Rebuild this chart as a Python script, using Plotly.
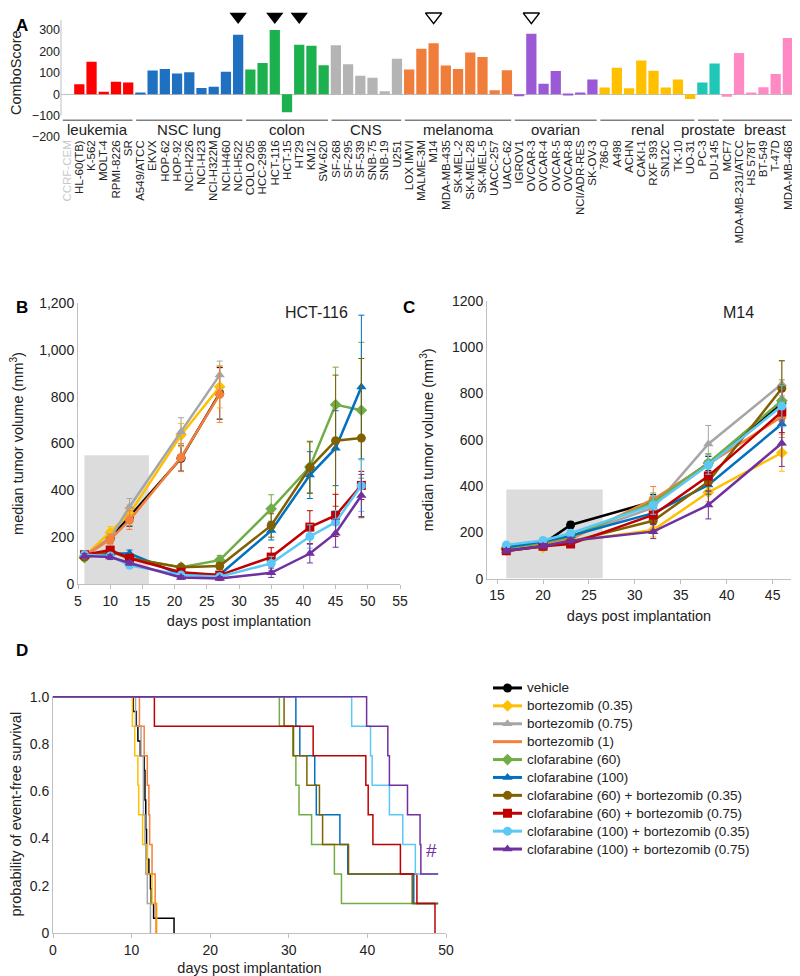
import plotly.graph_objects as go

FONT = "Liberation Sans, Arial, sans-serif"
PAGE_W, PAGE_H = 800, 976
OFF = 8  # default page body margin; the figure is placed at (8, 8)
W, H = PAGE_W - OFF, PAGE_H - OFF

# ---------------- Panel A data ----------------
groups = ["leukemia", "NSC lung", "colon", "CNS", "melanoma", "ovarian", "renal", "prostate", "breast"]
group_colors = ["#FF0000", "#1F70C1", "#1DB04E", "#B4B4B4", "#F07D3A", "#9B59D6", "#FFC000", "#1FC8B6", "#FF89C2"]

leukemia_lines = ["CCRF-CEM", "HL-60(TB)", "K-562", "MOLT-4", "RPMI-8226", "SR"]
leukemia_vals = [None, 46, 151, 11, 58, 54]
lung_lines = ["A549/ATCC", "EKVX", "HOP-62", "HOP-92", "NCI-H226", "NCI-H23", "NCI-H322M", "NCI-H460", "NCI-H522"]
lung_vals = [8, 111, 118, 97, 102, 29, 35, 105, 277]
colon_lines = ["COLO 205", "HCC-2998", "HCT-116", "HCT-15", "HT29", "KM12", "SW-620"]
colon_vals = [115, 145, 300, -85, 231, 226, 135]
cns_lines = ["SF-268", "SF-295", "SF-539", "SNB-75", "SNB-19", "U251"]
cns_vals = [228, 140, 86, 77, 14, 165]
melanoma_lines = ["LOX IMVI", "MALME-3M", "M14", "MDA-MB-435", "SK-MEL-2", "SK-MEL-28", "SK-MEL-5", "UACC-257", "UACC-62"]
melanoma_vals = [115, 212, 238, 134, 118, 194, 174, 18, 112]
ovarian_lines = ["IGROV1", "OVCAR-3", "OVCAR-4", "OVCAR-5", "OVCAR-8", "NCI/ADR-RES", "SK-OV-3"]
ovarian_vals = [-10, 282, 49, 108, -5, 8, 69]
renal_lines = ["786-0", "A498", "ACHN", "CAKI-1", "RXF 393", "SN12C", "TK-10", "UO-31"]
renal_vals = [31, 123, 28, 157, 109, 31, 69, -23]
prostate_lines = ["PC-3", "DU-145"]
prostate_vals = [54, 143]
breast_lines = ["MCF7", "MDA-MB-231/ATCC", "HS 578T", "BT-549", "T-47D", "MDA-MB-468"]
breast_vals = [-12, 192, 8, 32, 94, 262]

group_lines = [leukemia_lines, lung_lines, colon_lines, cns_lines, melanoma_lines,
               ovarian_lines, renal_lines, prostate_lines, breast_lines]
group_vals = [leukemia_vals, lung_vals, colon_vals, cns_vals, melanoma_vals,
              ovarian_vals, renal_vals, prostate_vals, breast_vals]
untested_lines = ["CCRF-CEM"]
marked_filled = ["NCI-H522", "HCT-116", "HT29"]
marked_open = ["M14", "OVCAR-3"]

# ---------------- Panel B data (HCT-116) ----------------
days_B = [6, 10, 13, 21, 27, 35, 41, 45, 49]
vehicle_B = [120, 195, 287, 537, 814]
bort035_B = [118, 220, 300, 636, 842]
bort075_B = [122, 195, 330, 650, 892]
bort1_B = [120, 190, 273, 540, 810]
clof60_B = [112, 140, 110, 72, 102, 321, 500, 766, 742]
clof100_B = [118, 130, 130, 40, 40, 228, 465, 580, 841]
c60b035_B = [115, 140, 110, 71, 77, 250, 497, 612, 623]
c60b075_B = [125, 145, 110, 50, 38, 115, 243, 293, 421]
c100b035_B = [125, 120, 80, 38, 31, 88, 203, 264, 420]
c100b075_B = [120, 115, 90, 28, 24, 48, 130, 217, 378]

vehicle_B_err = [10, 20, 40, 55, 110]
bort035_B_err = [10, 25, 40, 50, 90]
bort075_B_err = [10, 20, 35, 60, 60]
bort1_B_err = [10, 20, 40, 60, 120]
clof60_B_err = [10, 15, 15, 10, 20, 60, 110, 160, 290]
clof100_B_err = [10, 15, 15, 10, 10, 40, 100, 160, 307]
c60b035_B_err = [10, 15, 15, 10, 15, 50, 110, 280, 340]
c60b075_B_err = [10, 15, 15, 10, 10, 40, 70, 90, 60]
c100b035_B_err = [10, 10, 10, 8, 8, 30, 50, 50, 110]
c100b075_B_err = [10, 10, 10, 8, 8, 20, 40, 60, 90]

# ---------------- Panel C data (M14) ----------------
days_C = [16, 20, 23, 32, 38, 46]
vehicle_C = [130, 150, 232, 333, 498, 758]
bort035_C = [125, 135, 160, 210, 373, 544]
bort075_C = [135, 160, 180, 307, 582, 841]
bort1_C = [128, 150, 170, 343, 495, 700]
clof60_C = [130, 155, 180, 330, 500, 769]
clof100_C = [135, 160, 185, 283, 405, 668]
c60b035_C = [120, 140, 160, 250, 419, 822]
c60b075_C = [120, 140, 150, 275, 443, 721]
c100b035_C = [145, 165, 196, 318, 491, 746]
c100b075_C = [120, 140, 164, 203, 318, 585]

vehicle_C_err = [10, 12, 15, 30, 30, 80]
bort035_C_err = [10, 12, 15, 30, 40, 80]
bort075_C_err = [10, 12, 15, 30, 80, 100]
bort1_C_err = [10, 12, 15, 55, 40, 90]
clof60_C_err = [10, 12, 15, 40, 40, 90]
clof100_C_err = [10, 12, 15, 40, 40, 90]
c60b035_C_err = [10, 12, 15, 40, 40, 120]
c60b075_C_err = [10, 12, 15, 40, 40, 90]
c100b035_C_err = [10, 12, 15, 40, 40, 90]
c100b075_C_err = [10, 12, 15, 30, 60, 100]

# ---------------- Panel D data (event-free survival) ----------------
# (day of event, survival after event); curves not reaching 0 continue to end_day_D
vehicle_D = [(10.2, 0.9375), (10.6, 0.875), (10.8, 0.8125), (11.1, 0.75), (11.6, 0.6875), (11.7, 0.625),
             (11.7, 0.5625), (11.8, 0.5), (11.8, 0.4375), (11.9, 0.375), (12.0, 0.3125), (12.2, 0.25),
             (12.4, 0.1875), (12.5, 0.125), (12.8, 0.0625), (15.4, 0.0)]
bort035_D = [(10.1, 0.875), (10.4, 0.75), (10.8, 0.625), (10.9, 0.5), (11.4, 0.375), (12.0, 0.25), (12.6, 0.125), (13.2, 0.0)]
bort075_D = [(10.5, 0.875), (11.2, 0.75), (11.5, 0.5), (11.7, 0.375), (11.8, 0.25), (12.0, 0.125), (12.4, 0.0)]
bort1_D = [(11.0, 0.875), (11.6, 0.75), (12.0, 0.625), (12.2, 0.5), (12.3, 0.375), (12.6, 0.25), (13.0, 0.125), (13.1, 0.0)]
clof60_D = [(28.8, 0.875), (30.5, 0.75), (30.9, 0.625), (31.3, 0.5), (32.9, 0.375), (35.8, 0.25), (36.7, 0.125)]
clof100_D = [(30.9, 0.875), (31.4, 0.75), (33.3, 0.625), (33.5, 0.5), (36.5, 0.375), (37.5, 0.25), (45.9, 0.125)]
c60b035_D = [(29.4, 0.875), (30.6, 0.75), (32.3, 0.625), (33.9, 0.5), (34.3, 0.375), (37.6, 0.25), (45.7, 0.125)]
c60b075_D = [(12.9, 0.875), (33.1, 0.75), (39.8, 0.625), (40.1, 0.5), (40.7, 0.375), (44.2, 0.25), (46.3, 0.125), (48.6, 0.0)]
c100b035_D = [(38.0, 0.875), (40.4, 0.75), (40.6, 0.625), (42.8, 0.5), (44.5, 0.375), (46.1, 0.25)]
c100b075_D = [(39.9, 0.875), (42.6, 0.75), (42.8, 0.625), (45.1, 0.5), (46.7, 0.375), (46.8, 0.25)]
end_day_D = 49

series_names = ["vehicle", "bortezomib (0.35)", "bortezomib (0.75)", "bortezomib (1)", "clofarabine (60)",
                "clofarabine (100)", "clofarabine (60) + bortezomib (0.35)", "clofarabine (60) + bortezomib (0.75)",
                "clofarabine (100) + bortezomib (0.35)", "clofarabine (100) + bortezomib (0.75)"]
series_colors = ["#000000", "#FFC000", "#A6A6A6", "#F4803B", "#70AD47", "#0070C0", "#806000", "#C00000", "#5BC8F5", "#7030A0"]
series_symbols = ["circle", "diamond", "triangle-up", "circle", "diamond", "triangle-up", "circle", "square", "circle", "triangle-up"]
legend_symbols = ["circle", "diamond", "triangle-up", None, "diamond", "triangle-up", "circle", "square", "circle", "triangle-up"]

B_vals = [vehicle_B, bort035_B, bort075_B, bort1_B, clof60_B, clof100_B, c60b035_B, c60b075_B, c100b035_B, c100b075_B]
B_errs = [vehicle_B_err, bort035_B_err, bort075_B_err, bort1_B_err, clof60_B_err, clof100_B_err,
          c60b035_B_err, c60b075_B_err, c100b035_B_err, c100b075_B_err]
C_vals = [vehicle_C, bort035_C, bort075_C, bort1_C, clof60_C, clof100_C, c60b035_C, c60b075_C, c100b035_C, c100b075_C]
C_errs = [vehicle_C_err, bort035_C_err, bort075_C_err, bort1_C_err, clof60_C_err, clof100_C_err,
          c60b035_C_err, c60b075_C_err, c100b035_C_err, c100b075_C_err]
D_curves = [vehicle_D, bort035_D, bort075_D, bort1_D, clof60_D, clof100_D, c60b035_D, c60b075_D, c100b035_D, c100b075_D]


def py(p):  # page pixel y (from top) -> paper
    return 1 - (p - OFF) / H


def px(p):  # page pixel x -> paper
    return (p - OFF) / W


fig = go.Figure()

# ---------------- Panel A ----------------
all_lines, all_vals, all_colors = [], [], []
for lines, vals, col in zip(group_lines, group_vals, group_colors):
    all_lines += lines
    all_vals += vals
    all_colors += [col] * len(lines)

fig.add_trace(go.Bar(x=all_lines, y=all_vals, marker=dict(color=all_colors, line=dict(width=0)),
                     xaxis="x", yaxis="y", showlegend=False))
fig.add_trace(go.Scatter(x=marked_filled, y=[362] * len(marked_filled), mode="markers",
                         marker=dict(symbol="triangle-down", size=15, color="black"),
                         xaxis="x", yaxis="y", showlegend=False, cliponaxis=False))
fig.add_trace(go.Scatter(x=marked_open, y=[362] * len(marked_open), mode="markers",
                         marker=dict(symbol="triangle-down-open", size=14, color="black", line=dict(width=1.5)),
                         xaxis="x", yaxis="y", showlegend=False, cliponaxis=False))

ticktext_A = [f"<span style='color:#C8C8C8'>{n}</span>" if n in untested_lines else n for n in all_lines]

shapes = []
annotations = []
# left axis line of panel A (stops above the top tick, as in the original)
shapes.append(dict(type="line", xref="x domain", yref="y", x0=0, x1=0, y0=-100, y1=345,
                   line=dict(color="#BFBFBF", width=1)))
start = 0
for g, lines in zip(groups, group_lines):
    n = len(lines)
    shapes.append(dict(type="line", xref="x", yref="y", x0=start - 0.35, x1=start + n - 0.65,
                       y0=-122, y1=-122, line=dict(color="#7F7F7F", width=1.5)))
    annotations.append(dict(xref="x", yref="y", x=start + (n - 1) / 2, y=-163, text=g, showarrow=False,
                            xshift=8 if g == "breast" else 0,
                            font=dict(size=15, color="#222", family=FONT)))
    start += n

# ---------------- Panel B & C ----------------
for vals, errs, name, col, sym in zip(B_vals, B_errs, series_names, series_colors, series_symbols):
    fig.add_trace(go.Scatter(x=days_B[:len(vals)], y=vals, mode="lines+markers", name=name,
                             line=dict(color=col, width=2.5), marker=dict(symbol=sym, size=9, color=col),
                             error_y=dict(type="data", array=errs, color=col, thickness=1, width=3),
                             xaxis="x2", yaxis="y2", showlegend=False))
for vals, errs, name, col, sym in zip(C_vals, C_errs, series_names, series_colors, series_symbols):
    fig.add_trace(go.Scatter(x=days_C, y=vals, mode="lines+markers", name=name,
                             line=dict(color=col, width=2.5), marker=dict(symbol=sym, size=9, color=col),
                             error_y=dict(type="data", array=errs, color=col, thickness=1, width=3),
                             xaxis="x3", yaxis="y3", showlegend=False))

# ---------------- Panel D ----------------
for curve, name, col in zip(D_curves, series_names, series_colors):
    xs = [0] + [t for t, s in curve]
    ys = [1.0] + [s for t, s in curve]
    if ys[-1] > 0:
        xs.append(end_day_D)
        ys.append(ys[-1])
    fig.add_trace(go.Scatter(x=xs, y=ys, mode="lines", line=dict(color=col, width=1.5, shape="hv"),
                             name=name, xaxis="x4", yaxis="y4", showlegend=False))

# ---------------- Legend (drawn on a hidden helper axis, one row per series) ----------------
for i, (name, col, sym) in enumerate(zip(series_names, series_colors, legend_symbols)):
    fig.add_trace(go.Scatter(x=[0, 1], y=[i, i], mode="lines", line=dict(color=col, width=3),
                             xaxis="x5", yaxis="y5", showlegend=False, hoverinfo="skip"))
    if sym:
        fig.add_trace(go.Scatter(x=[0.5], y=[i], mode="markers", marker=dict(symbol=sym, size=9, color=col),
                                 xaxis="x5", yaxis="y5", showlegend=False, hoverinfo="skip", cliponaxis=False))
    annotations.append(dict(xref="x5", yref="y5", x=1, y=i, xanchor="left", xshift=3, text=name,
                            showarrow=False, font=dict(size=13.5, color="#222")))

# shaded treatment windows
shapes.append(dict(type="rect", xref="x2", yref="y2", x0=6, x1=16, y0=0, y1=550,
                   fillcolor="#DCDCDC", line=dict(width=0), layer="below"))
shapes.append(dict(type="rect", xref="x3", yref="y3", x0=16, x1=26.5, y0=0, y1=385,
                   fillcolor="#DCDCDC", line=dict(width=0), layer="below"))

annotations += [
    dict(xref="x2", yref="y2", x=42.1, y=1160, text="HCT-116", showarrow=False, font=dict(size=16, color="#222")),
    dict(xref="x3", yref="y3", x=41.3, y=1152, text="M14", showarrow=False, font=dict(size=16, color="#222")),
    dict(xref="x4", yref="y4", x=48.2, y=0.35, text="#", showarrow=False, font=dict(size=19, color="#7030A0")),
]
for letter, xpix, ypix in [("A", 14, 14), ("B", 14, 296), ("C", 409, 296), ("D", 14, 662)]:
    annotations.append(dict(xref="paper", yref="paper", x=px(xpix), y=py(ypix), text=f"<b>{letter}</b>",
                            showarrow=False, font=dict(size=17, color="#000")))

axis_common = dict(showgrid=False, zeroline=False, showline=True, linecolor="#BFBFBF", linewidth=1,
                   tickfont=dict(size=14, color="#222"), ticks="outside", tickcolor="#BFBFBF", ticklen=4,
                   automargin=False)

# panel A: 0 at page y 95, 100 units = 21.63 px
A_top_val = 400
A_top_pix = 95 - A_top_val * 0.2163

fig.update_layout(
    width=W, height=H, paper_bgcolor="white", plot_bgcolor="white",
    margin=dict(l=0, r=0, t=0, b=0, autoexpand=False),
    font=dict(family=FONT, color="#222"),
    bargap=0.16,
    shapes=shapes, annotations=annotations,
    showlegend=False,
    xaxis=dict(domain=[px(61), px(794)], anchor="y", type="category", range=[-0.5, 59.5],
               tickmode="array", tickvals=all_lines, ticktext=ticktext_A, tickangle=-90,
               tickfont=dict(size=11.5, color="#222"), showline=False, showgrid=False, ticks="",
               automargin=False),
    yaxis=dict(domain=[py(137), py(A_top_pix)], anchor="x", range=[-200, A_top_val],
               tickvals=[-200, -100, 0, 100, 200, 300],
               tickfont=dict(size=12.5, color="#222"), showgrid=False, zeroline=True, zerolinecolor="#BFBFBF",
               zerolinewidth=1, showline=False, automargin=False,
               title=dict(text="ComboScore", font=dict(size=14.5), standoff=12)),
    xaxis2=dict(axis_common, domain=[px(78), px(400)], anchor="y2", range=[5, 55], dtick=5, tick0=5,
                title=dict(text="days post implantation", font=dict(size=14.5), standoff=8)),
    yaxis2=dict(axis_common, domain=[py(584), py(303)], anchor="x2", range=[0, 1200], dtick=200,
                tickformat=",d", ticks="",
                title=dict(text="median tumor volume (mm<sup>3</sup>)", font=dict(size=14.5), standoff=16)),
    xaxis3=dict(axis_common, domain=[px(487), px(791)], anchor="y3", range=[13.9, 47.0],
                tickvals=[15, 20, 25, 30, 35, 40, 45],
                title=dict(text="days post implantation", font=dict(size=14.5), standoff=8)),
    yaxis3=dict(axis_common, domain=[py(578.6), py(301)], anchor="x3", range=[0, 1200], dtick=200, ticks="",
                title=dict(text="median tumor volume (mm<sup>3</sup>)", font=dict(size=14.5), standoff=14)),
    xaxis4=dict(axis_common, domain=[px(53), px(446)], anchor="y4", range=[0, 50], dtick=10,
                title=dict(text="days post implantation", font=dict(size=14.5), standoff=6)),
    yaxis4=dict(axis_common, domain=[py(933), py(695.5)], anchor="x4", range=[0, 1.005],
                tickvals=[0, 0.2, 0.4, 0.6, 0.8, 1.0], ticktext=["0", "0.2", "0.4", "0.6", "0.8", "1.0"], ticks="",
                title=dict(text="probability of event-free survival", font=dict(size=14.5), standoff=14)),
    xaxis5=dict(domain=[px(493), px(522)], anchor="y5", range=[0, 1], visible=False, automargin=False),
    yaxis5=dict(domain=[py(858), py(679)], anchor="x5", range=[9.5, -0.5], visible=False, automargin=False),
)

fig.write_html("out.html")
